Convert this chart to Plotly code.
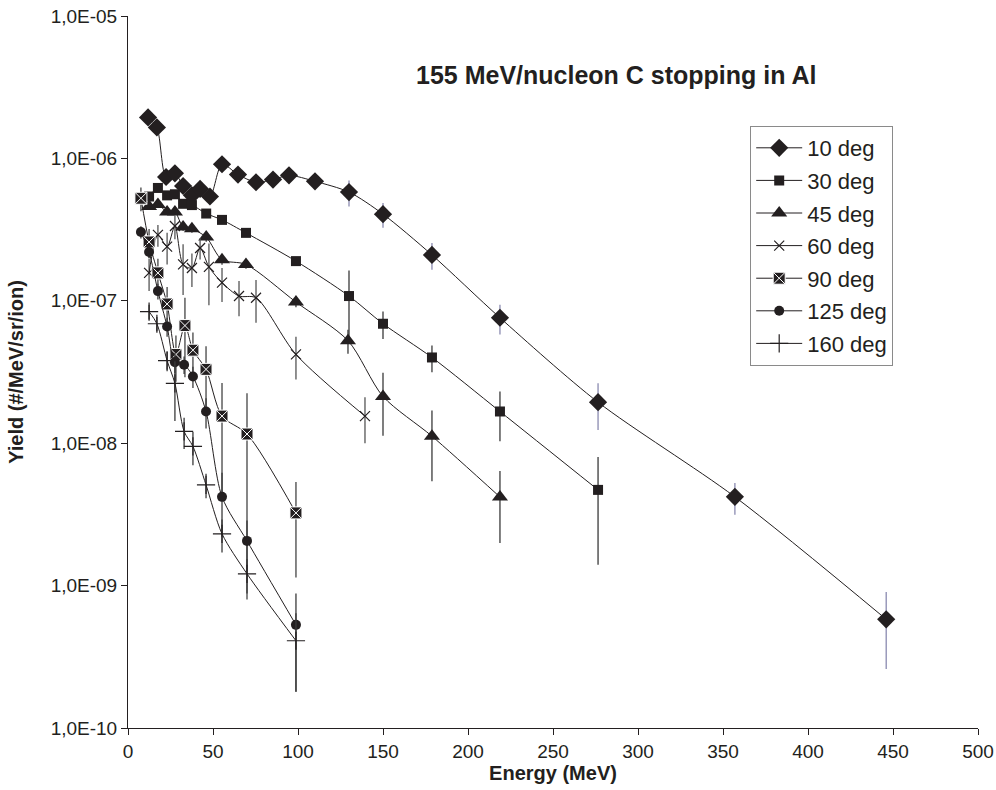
import plotly.graph_objects as go

# ---------------- data ----------------
E10 = [11.8, 17, 22.4, 27.6, 32.4, 37.6, 42.4, 48.2, 55.3, 64.7, 75.3, 85.3, 94.7, 110, 130, 150, 178.8, 218.8, 276.5, 357, 446]
Y10 = [1.94e-6, 1.65e-6, 7.4e-7, 7.85e-7, 6.4e-7, 5.5e-7, 6.1e-7, 5.4e-7, 9.1e-7, 7.7e-7, 6.8e-7, 7.1e-7, 7.6e-7,
       6.9e-7, 5.8e-7, 4.06e-7, 2.1e-7, 7.6e-8, 1.94e-8, 4.2e-9, 5.8e-10]
ERR10 = [6e-8, 5e-8, 3e-8, 3e-8, 3e-8, 2.5e-8, 3e-8, 2.5e-8, 4e-8, 3.5e-8, 3e-8, 3.5e-8, 5e-8,
         5e-8, 1.2e-7, 8e-8, 4.5e-8, 1.8e-8, 7e-9, 1.05e-9, 3.2e-10]

E30 = [12.4, 17.6, 23, 27.6, 32.4, 37.6, 46, 55.3, 69.4, 98.8, 130, 150, 178.8, 218.8, 276.5]
Y30 = [5.4e-7, 6.2e-7, 5.5e-7, 5.6e-7, 4.8e-7, 4.7e-7, 4.1e-7, 3.7e-7, 3.0e-7, 1.9e-7, 1.08e-7, 6.9e-8, 4.0e-8, 1.67e-8, 4.7e-9]
ERR30 = [2.5e-8, 3e-8, 2.5e-8, 2.5e-8, 2.5e-8, 2e-8, 2e-8, 1.8e-8, 1.5e-8, 1e-8, 5.5e-8, 1.5e-8, 8.5e-9, 6.4e-9, 3.3e-9]

E45 = [12.4, 17.6, 23, 27.6, 32.4, 37.6, 46, 55.3, 69.4, 98.8, 129.4, 150, 178.8, 218.8]
Y45 = [4.6e-7, 4.75e-7, 4.2e-7, 4.2e-7, 3.3e-7, 3.2e-7, 2.8e-7, 1.94e-7, 1.8e-7, 9.8e-8, 5.25e-8, 2.13e-8, 1.12e-8, 4.19e-9]
ERR45 = [2.5e-8, 2.5e-8, 2e-8, 2e-8, 2e-8, 2e-8, 2e-8, 1.5e-8, 1.2e-8, 8e-9, 1.0e-8, 1.0e-8, 5.8e-9, 2.2e-9]

E60 = [12.4, 17.6, 23, 27.6, 32.4, 37.6, 42.4, 47.6, 55.3, 65.3, 75.3, 98.8, 139.4]
Y60 = [1.57e-7, 2.9e-7, 2.4e-7, 3.35e-7, 1.8e-7, 1.7e-7, 2.35e-7, 1.73e-7, 1.34e-7, 1.08e-7, 1.05e-7, 4.2e-8, 1.55e-8]
ERR60 = [4e-8, 5e-8, 6e-8, 6.4e-8, 7e-8, 4.5e-8, 4e-8, 8e-8, 3.6e-8, 3e-8, 3.5e-8, 1.4e-8, 5.5e-9]

E90 = [7.6, 12.4, 17.6, 23, 28.2, 33.5, 38.2, 45.9, 55.3, 70, 98.8]
Y90 = [5.25e-7, 2.59e-7, 1.57e-7, 9.5e-8, 4.2e-8, 6.7e-8, 4.5e-8, 3.3e-8, 1.55e-8, 1.16e-8, 3.24e-9]
ERR90 = [1.0e-7, 6e-8, 4e-8, 3e-8, 1.5e-8, 3.8e-8, 1.5e-8, 1.5e-8, 1.1e-8, 1.08e-8, 2.1e-9]

E125 = [7.6, 12.4, 17.6, 23, 27.6, 33, 38.2, 45.9, 55.3, 70, 98.8]
Y125 = [3.04e-7, 2.2e-7, 1.17e-7, 6.6e-8, 3.7e-8, 3.56e-8, 2.94e-8, 1.67e-8, 4.2e-9, 2.06e-9, 5.3e-10]
ERR125 = [3e-8, 2e-8, 1.5e-8, 1.0e-8, 6e-9, 5e-9, 5e-9, 4e-9, 2.0e-9, 8e-10, 3.5e-10]

E160 = [12.4, 17, 23, 27.6, 33, 38.2, 45.9, 55.3, 70, 98.8]
Y160 = [8.4e-8, 6.9e-8, 3.8e-8, 2.63e-8, 1.21e-8, 9.5e-9, 5.1e-9, 2.31e-9, 1.21e-9, 4.1e-10]
ERR160 = [1.0e-8, 8e-9, 6e-9, 1.2e-8, 3e-9, 2.5e-9, 1.0e-9, 6e-10, 3.3e-10, 2.3e-10]

SERIES_NAMES = ["10 deg", "30 deg", "45 deg", "60 deg", "90 deg", "125 deg", "160 deg"]

Y_TICK_VALS = [1e-10, 1e-9, 1e-8, 1e-7, 1e-6, 1e-5]
Y_TICK_TEXT = ["1,0E-10", "1,0E-09", "1,0E-08", "1,0E-07", "1,0E-06", "1,0E-05"]
X_TICK_VALS = [0, 50, 100, 150, 200, 250, 300, 350, 400, 450, 500]

TITLE = "155 MeV/nucleon C stopping in Al"
X_TITLE = "Energy (MeV)"
Y_TITLE = "Yield (#/MeV/sr/ion)"

# ---------------- styling ----------------
INK = "#231f20"
FONT = "Liberation Sans, Arial, sans-serif"

styles = [
    dict(symbol="diamond", size=14, color=INK, lc=INK, lw=0, ecol="#8a8ab0"),
    dict(symbol="square", size=10, color=INK, lc=INK, lw=0, ecol="#3a3a3a"),
    dict(symbol="triangle-up", size=14, color=INK, lc=INK, lw=0, ecol="#3a3a3a"),
    dict(symbol="x-thin", size=10, color=INK, lc=INK, lw=1.2, ecol="#555555"),
    dict(symbol="square-x", size=12, color=INK, lc="white", lw=1.0, ecol="#444444"),
    dict(symbol="circle", size=10, color=INK, lc=INK, lw=0, ecol="#3a3a3a"),
    dict(symbol="cross-thin", size=13, color=INK, lc=INK, lw=1.2, ecol="#3a3a3a"),
]

data = [(E10, Y10, ERR10), (E30, Y30, ERR30), (E45, Y45, ERR45), (E60, Y60, ERR60),
        (E90, Y90, ERR90), (E125, Y125, ERR125), (E160, Y160, ERR160)]

fig = go.Figure()
for name, (ex, ey, ee), st in zip(SERIES_NAMES, data, styles):
    fig.add_trace(go.Scatter(
        x=ex, y=ey, name=name, mode="lines+markers",
        line=dict(color=INK, width=1, shape="spline", smoothing=0.8),
        marker=dict(symbol=st["symbol"], size=st["size"], color=st["color"],
                    line=dict(color=st["lc"], width=st["lw"])),
        error_y=dict(type="data", array=ee, symmetric=True, visible=True,
                     color=st["ecol"], thickness=1.3, width=0),
        legendgroup=name,
    ))

fig.add_annotation(
    text=TITLE, xref="paper", yref="paper", x=0.575, y=0.917,
    xanchor="center", yanchor="middle", showarrow=False,
    font=dict(family=FONT, size=25, color=INK, weight="bold"),
)

fig.update_layout(
    width=996, height=790,
    margin=dict(l=128, r=18, t=16, b=62),
    paper_bgcolor="white", plot_bgcolor="white",
    font=dict(family=FONT, size=19, color=INK),
    showlegend=True,
    legend=dict(
        x=0.732, y=0.8455, xanchor="left", yanchor="top",
        bordercolor="#8a8a8a", borderwidth=1, bgcolor="white",
        font=dict(family=FONT, size=22, color=INK),
        tracegroupgap=1, itemsizing="trace", itemwidth=46,
    ),
    xaxis=dict(
        range=[0, 500], tickvals=X_TICK_VALS, ticks="outside", ticklen=6, tickwidth=1,
        tickcolor=INK, showline=True, linecolor=INK, linewidth=1, showgrid=False,
        zeroline=False, automargin=False, tickfont=dict(family=FONT, size=19, color=INK),
        title=dict(text=X_TITLE, font=dict(family=FONT, size=20, color=INK, weight="bold"), standoff=2),
    ),
    yaxis=dict(
        type="log", range=[-10, -5], tickvals=Y_TICK_VALS, ticktext=Y_TICK_TEXT,
        ticks="outside", ticklen=6, tickwidth=1, tickcolor=INK, showline=True,
        linecolor=INK, linewidth=1, showgrid=False, zeroline=False, automargin=False,
        tickfont=dict(family=FONT, size=19, color=INK),
        title=dict(text=Y_TITLE, font=dict(family=FONT, size=20, color=INK, weight="bold"), standoff=21),
    ),
)

# remove the browser's default 8px body margin so the 996x790 figure fills the window exactly
fig.write_html("out.html", config={"displayModeBar": False},
               post_script="document.body.style.margin='0';")
